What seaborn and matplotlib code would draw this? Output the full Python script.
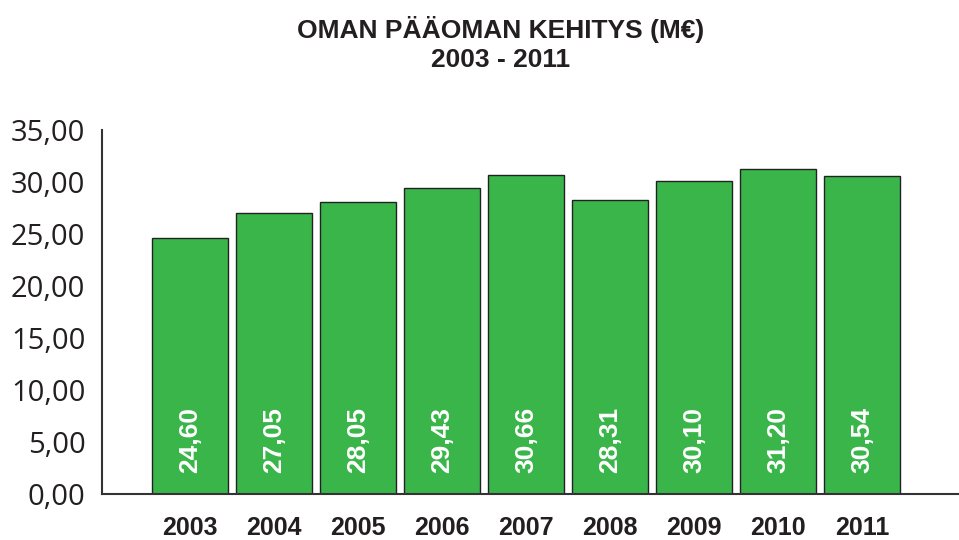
import matplotlib
matplotlib.use("Agg")
import pandas as pd
import seaborn as sns
import matplotlib.pyplot as plt
from matplotlib.ticker import FuncFormatter

# Data
years = ["2003", "2004", "2005", "2006", "2007", "2008", "2009", "2010", "2011"]
equity = [24.60, 27.05, 28.05, 29.43, 30.66, 28.31, 30.10, 31.20, 30.54]

df = pd.DataFrame({"year": years, "equity": equity})

sns.set_style("white")
plt.rcParams["font.family"] = ["Liberation Sans", "DejaVu Sans"]

fig = plt.figure(figsize=(9.59, 5.40), dpi=100)
ax = fig.add_axes([0.1064, 0.0852, 0.8926, 0.6741])

sns.barplot(
    data=df,
    x="year",
    y="equity",
    color="#3AB54A",
    saturation=1,
    edgecolor="#222222",
    linewidth=1.0,
    width=0.9,
    ax=ax,
)

# Value labels inside the bars
for i, v in enumerate(equity):
    ax.text(i, 5.2, f"{v:.2f}".replace(".", ","), rotation=90,
            ha="center", va="center", color="white",
            fontsize=19, fontweight="bold")

ax.set_ylim(0, 35)
ax.set_xlim(-1.05, 9.14)
ax.set_yticks(range(0, 36, 5))
ax.yaxis.set_major_formatter(FuncFormatter(lambda v, p: f"{v:.2f}".replace(".", ",")))
ax.set_xlabel("")
ax.set_ylabel("")

for lab in ax.get_yticklabels():
    lab.set_family(["Open Sans", "DejaVu Sans"])
    lab.set_fontsize(21)
    lab.set_color("#231F20")
for lab in ax.get_xticklabels():
    lab.set_fontsize(18)
    lab.set_fontweight("bold")
    lab.set_color("#231F20")

ax.tick_params(axis="both", length=0)
ax.tick_params(axis="y", pad=12)
ax.tick_params(axis="x", pad=16)

sns.despine(ax=ax)
for side in ["left", "bottom"]:
    ax.spines[side].set_color("#333333")
    ax.spines[side].set_linewidth(1.5)

fig.text(0.522, 0.945, "OMAN PÄÄOMAN KEHITYS (M€)", ha="center", va="center",
         fontsize=19, fontweight="bold", color="#231F20")
fig.text(0.522, 0.888, "2003 - 2011", ha="center", va="center",
         fontsize=19, fontweight="bold", color="#231F20")

fig.savefig("out.png", dpi=100)
